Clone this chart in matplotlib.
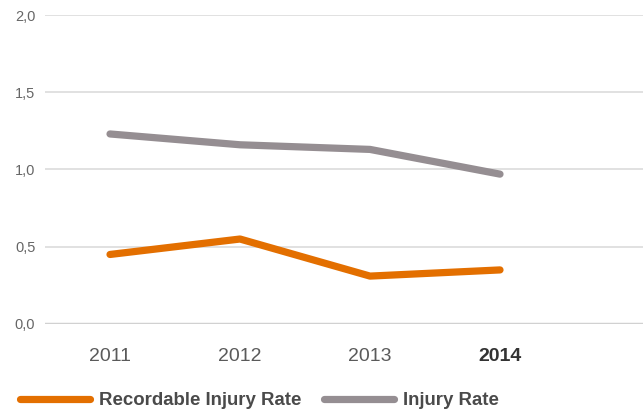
import matplotlib
matplotlib.use("Agg")
import matplotlib.pyplot as plt
from matplotlib.ticker import FuncFormatter

years = ["2011", "2012", "2013", "2014"]
recordable_rate = [0.45, 0.55, 0.31, 0.35]
injury_rate = [1.23, 1.16, 1.13, 0.97]
y_ticks = [0.0, 0.5, 1.0, 1.5, 2.0]

ORANGE = "#E36F00"
GRAY = "#958E92"

plt.rcParams['font.family'] = ['Liberation Sans', 'DejaVu Sans']

fig = plt.figure(figsize=(6.43, 4.11), dpi=100)
ax = fig.add_axes([0.0700, 0.2117, 0.9300, 0.7518])

x = list(range(len(years)))
ax.plot(x, recordable_rate, color=ORANGE, lw=5.2, solid_capstyle='round',
        solid_joinstyle='round', label="Recordable Injury Rate", zorder=3)
ax.plot(x, injury_rate, color=GRAY, lw=5.2, solid_capstyle='round',
        solid_joinstyle='round', label="Injury Rate", zorder=3)

ax.set_xlim(-0.5, 4.1)
ax.set_ylim(0, 2.0)
ax.set_yticks(y_ticks)
ax.yaxis.set_major_formatter(FuncFormatter(lambda v, p: f"{v:.1f}".replace('.', ',')))
ax.set_xticks(x)
ax.set_xticklabels(years)

for sp in ax.spines.values():
    sp.set_visible(False)
ax.grid(axis='y', color='#dcdcdc', lw=1.2, zorder=0)
ax.axhline(0, color='#a0a0a0', lw=1.6, zorder=1)

ax.tick_params(axis='y', length=0, pad=7, labelsize=10.5, labelcolor='#666666')
ax.tick_params(axis='x', length=0, pad=17, labelsize=14, labelcolor='#5a5a5a')
for lbl in ax.get_xticklabels():
    if lbl.get_text() == "2014":
        lbl.set_fontweight('bold')
        lbl.set_color('#333333')

leg = fig.legend(loc='center left', bbox_to_anchor=(0.031, 0.025), ncol=2, frameon=False,
                 borderaxespad=0, borderpad=0,
                 handlelength=3.76, handletextpad=0.48, columnspacing=1.24,
                 prop={'weight': 'bold', 'size': 13.4})
for t in leg.get_texts():
    t.set_color('#4a4a4a')

fig.savefig("out.png", dpi=100)
